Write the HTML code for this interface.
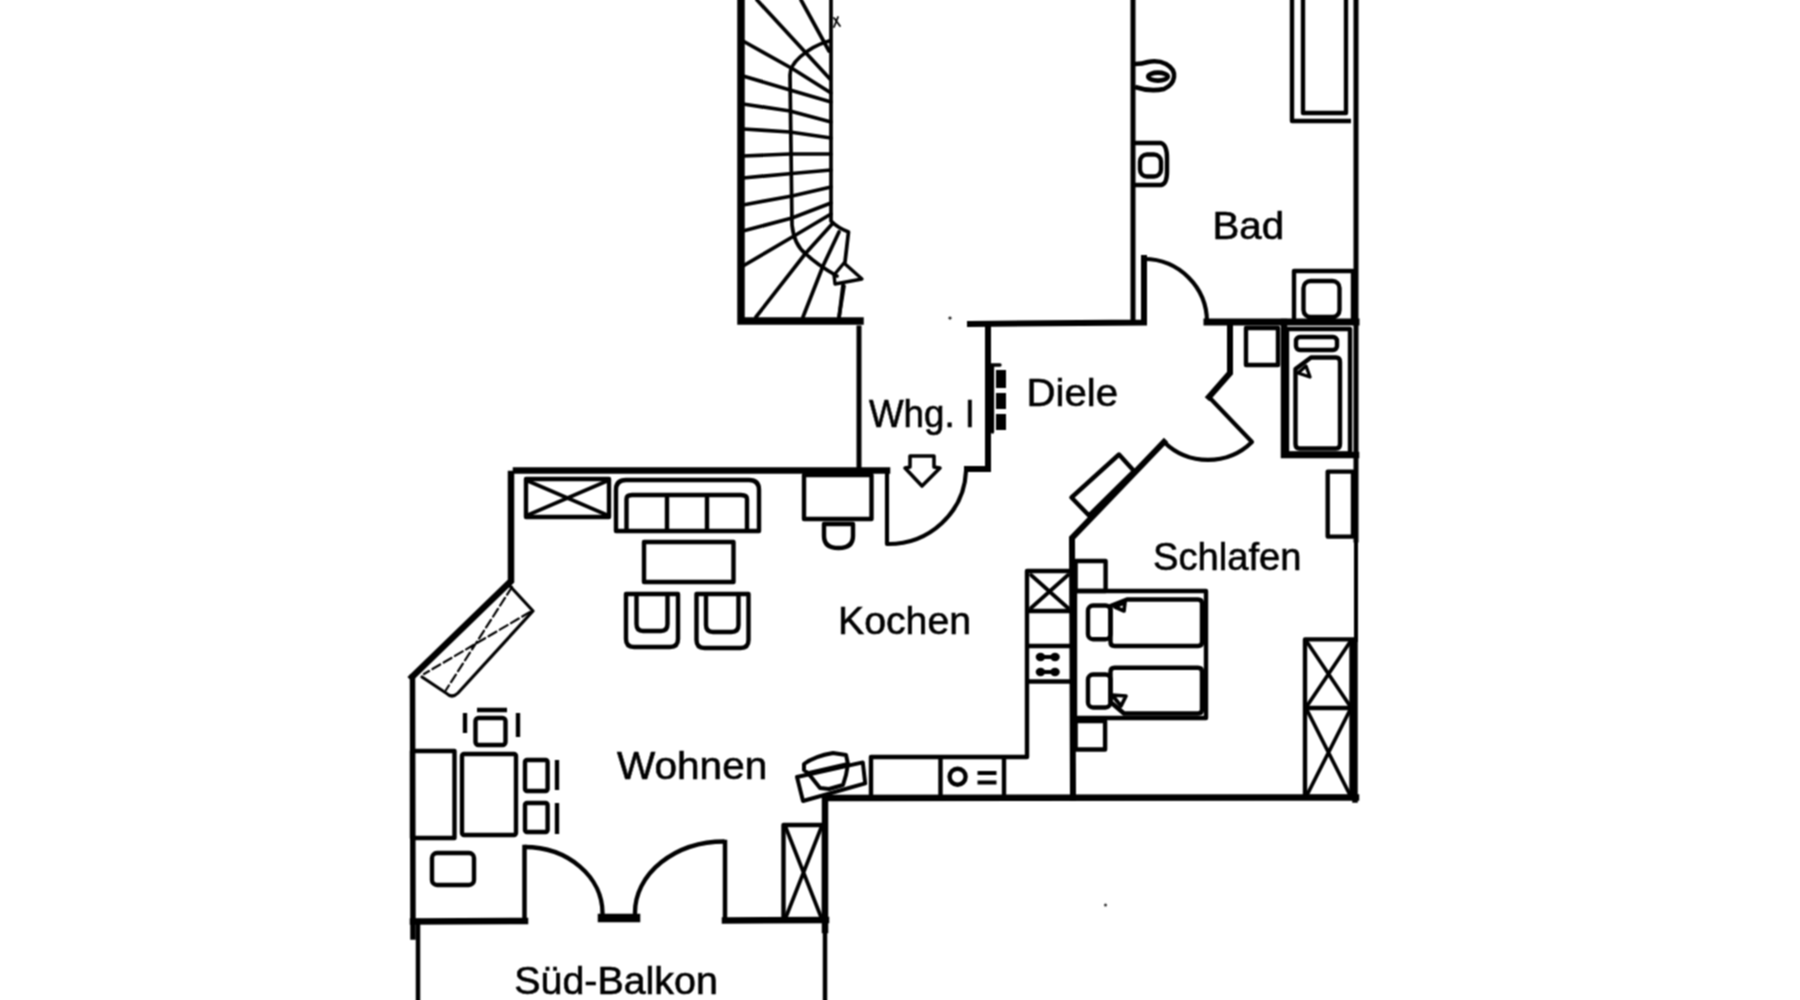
<!DOCTYPE html>
<html><head><meta charset="utf-8">
<style>
html,body{margin:0;padding:0;background:#fff;width:1800px;height:1000px;overflow:hidden}
svg{display:block}
.w{stroke:#000;stroke-width:6.5;fill:none;stroke-linecap:square;stroke-linejoin:miter}
.m{stroke:#000;stroke-width:4.8;fill:none;stroke-linejoin:round}
.f{stroke:#000;stroke-width:4.4;fill:none;stroke-linejoin:round}
.t{stroke:#000;stroke-width:3.7;fill:none;stroke-linejoin:round;stroke-linecap:round}
text{font-family:"Liberation Sans",sans-serif;font-size:38.5px;fill:#000;stroke:#000;stroke-width:0.6}
</style></head>
<body>
<svg width="1800" height="1000" viewBox="0 0 1800 1000">
<defs><filter id="bl" x="-1%" y="-1%" width="102%" height="102%"><feConvolveMatrix order="3" kernelMatrix="1 2 1 2 4 2 1 2 1" divisor="16" edgeMode="none"/></filter></defs>
<rect width="1800" height="1000" fill="#fff"/>
<g filter="url(#bl)">

<!-- ===== STAIRCASE ===== -->
<path class="w" d="M741,-5 L741,321 L860,321" style="stroke-width:7.5"/>
<!-- right stair boundary -->
<path class="t" d="M831,-2 L831,221 Q838,228 848.5,232 L845,262"/>
<path class="t" d="M843,285 L839,318"/>
<!-- arrow -->
<path class="t" d="M844,263 L862,279 L835,284 L834,275 Z" style="stroke-width:3.35"/>
<!-- middle curve -->
<path class="t" d="M829,41 Q812,46 800,57 Q790,66 790,75 L792,225 Q794,245 806,254 Q816,264 837,276"/>
<!-- steps -->
<path class="t" d="M757,0 L830,79"/>
<path class="t" d="M801,0 L829,51"/>
<path class="t" d="M743,41 L793,69 L831,93"/>
<path class="t" d="M743,76 L790,90 L831,102"/>
<path class="t" d="M743,104 L790,111 L831,122"/>
<path class="t" d="M743,129 L790,132 L831,138"/>
<path class="t" d="M743,156 L790,154 L831,154"/>
<path class="t" d="M743,178 L792,173.5 L831,170"/>
<path class="t" d="M743,205 L792,196 L831,187"/>
<path class="t" d="M743,231 L792,218 L831,203"/>
<path class="t" d="M743,266 L794,236 L831,214"/>
<path class="t" d="M756,317 L805,254 L833,223"/>
<path class="t" d="M803,317 L823,266 L839,232"/>
<path class="t" d="M839,317 L844,286"/>
<path class="t" d="M834,18 L840,26 M838,17 L834,27" style="stroke-width:1.8"/>

<!-- ===== CORRIDOR Whg. I ===== -->
<path class="w" d="M859,328 L859,469" style="stroke-width:5"/>
<path class="w" d="M988,324 L988,469 L967,469" style="stroke-width:6"/>
<!-- radiator -->
<path class="t" d="M988,365 L1000,365 M992.5,365 L992.5,432" style="stroke-width:3.35"/>
<path d="M996,370 h10 v18 h-10z M996,393 h10 v16 h-10z M996,414 h10 v16 h-10z" fill="#000"/>
<!-- door to living -->
<path class="m" d="M887,469 L887,544 A78,76 0 0 0 966,471" style="stroke-width:4.15"/>
<path class="t" d="M910,456 L934,456 L934,467 L940,468 L922,486 L905,468 L910,467 Z" style="stroke-width:3.55"/>

<!-- ===== DIELE / BAD walls ===== -->
<path class="w" d="M970,324 L1144,322.5 L1144,258" style="stroke-width:6"/>
<path class="w" d="M1133,-5 L1133,322" style="stroke-width:5"/>
<path class="m" d="M1144,259 A63,63 0 0 1 1207,322" style="stroke-width:4.15"/>
<path class="w" d="M1207,322 L1356,322" style="stroke-width:7"/>
<path class="w" d="M1356,-5 L1356,540" style="stroke-width:5"/><path class="w" d="M1356,540 L1356,640" style="stroke-width:4"/><path class="w" d="M1355,640 L1355,800" style="stroke-width:5.5"/>
<!-- door into small bath -->
<path class="w" d="M1230,322 L1230,373 L1209,397" style="stroke-width:6"/>
<path class="m" d="M1209,397 L1252,442 A63,63 0 0 1 1164,442" style="stroke-width:4.15"/>
<path class="w" d="M1164,442 L1072,538 L1073,798" style="stroke-width:6"/>
<!-- small bath -->
<path class="w" d="M1284,322 L1284,455 L1356,455" style="stroke-width:6.5"/>
<rect x="1246" y="328" width="32" height="37" class="f"/>
<rect x="1287" y="329" width="63" height="124.5" class="f"/>
<rect x="1296" y="337" width="41" height="13" rx="4" class="f"/>
<path class="f" d="M1295.5,369 L1311,357.5 L1336,357.5 Q1340,357.5 1340,362 L1340,444 Q1340,448.5 1336,448.5 L1299.5,448.5 Q1295.5,448.5 1295.5,444 Z"/>
<path class="t" d="M1298,373 L1306,366 L1310,377 Z" style="stroke-width:3.35"/>

<!-- Bad furniture -->
<path class="f" d="M1292,-2 L1292,121 L1351,121"/>
<path class="m" d="M1303,-2 L1303,113 L1346,113 L1346,-2" style="stroke-width:4.35"/>
<path class="m" d="M1135,64 Q1142,64 1148,62 Q1158,60 1166,64 Q1175,69 1174,77 Q1173,85 1164,89 Q1150,92 1135,87" style="stroke-width:4.55"/>
<ellipse cx="1158" cy="76.6" rx="9.8" ry="4" class="m" style="stroke-width:4.55"/>
<path class="f" d="M1135,143 L1161,143 Q1167,145 1167,158 L1167,172 Q1167,184 1161,185 L1135,185"/>
<rect x="1140" y="154.5" width="21" height="22" rx="7" class="f" style="stroke-width:4.35"/>
<rect x="1294" y="271" width="59" height="51" class="f"/>
<rect x="1303.5" y="281" width="36" height="36" rx="7" class="m" style="stroke-width:4.35"/>

<!-- ===== LIVING ROOM walls ===== -->
<path class="w" d="M887,470.5 L516,470.5 M511,474 L511,581 L412,677" style="stroke-width:6.5"/><path class="w" d="M412.5,677 L413,937" style="stroke-width:5.5"/>
<path class="w" d="M413,921.5 L525,921" style="stroke-width:6.5"/><path class="w" d="M524.5,921 L524.5,847" style="stroke-width:4.5"/>
<path class="m" d="M524.5,847 A78,66 0 0 1 602.5,913 L602.5,918" style="stroke-width:4.35"/>
<path class="w" d="M602,918 L636,918" style="stroke-width:8.5"/>
<path class="m" d="M635,918 L635,912.5 A89.5,71 0 0 1 724.5,841.5" style="stroke-width:4.35"/>
<path class="w" d="M725,842 L725,920.5" style="stroke-width:4.5"/><path class="w" d="M725,920.5 L826,920" style="stroke-width:6.5"/>
<path class="w" d="M825,930 L825,798 L1356,797.5" style="stroke-width:6.5"/><path class="w" d="M825,930 L825,1005" style="stroke-width:4.5"/>
<path class="w" d="M418,921 L418,1005" style="stroke-width:4.5"/>

<!-- living furniture -->
<rect x="526" y="479" width="83" height="38" class="f"/>
<path class="t" d="M528,481 L607,515 M607,481 L528,515"/>
<path class="f" d="M616,531 L616,490 Q616,480 626,480 L749,480 Q759,480 759,490 L759,531 Z"/>
<path class="f" d="M626.5,531 L626.5,499 Q626.5,495 632,495 L741,495 Q747,495 747,499 L747,531 M667,495 L667,531 M707,495 L707,531"/>
<rect x="644" y="542" width="89.5" height="40" class="f"/>
<path class="f" d="M626,594 L678,594 L678,639 Q678,647 670,647 L634,647 Q626,647 626,639 Z M636.5,594 L636.5,624 Q636.5,631 643,631 L661,631 Q667.5,631 667.5,624 L667.5,594"/>
<path class="f" d="M696.5,594 L748.5,594 L748.5,640 Q748.5,648 740.5,648 L704.5,648 Q696.5,648 696.5,640 Z M706,594 L706,625 Q706,632 713,632 L731.5,632 Q738.5,632 738.5,625 L738.5,594"/>
<rect x="804" y="475" width="67.5" height="44" class="f"/>
<path class="f" d="M824,524 L824,536 Q824,548 838.5,548 Q853,548 853,536 L853,524 Z"/>
<!-- rotated cabinet by diagonal wall -->
<path class="t" d="M509,585 L533,611 L458,693 Q452,699 446,693 L422,677" style="stroke-width:3.15"/>
<path class="t" d="M512,587 L446,690 M530,612 L424,674" style="stroke-width:2.2;stroke-dasharray:9 4"/>
<!-- dining -->
<path class="f" d="M477,710 L507,710 M465,713 L465,733 M518,713 L518,737" style="stroke-width:4.35"/>
<rect x="475.5" y="718" width="30" height="27" rx="3" class="f"/>
<rect x="412" y="751" width="42.5" height="87" class="f"/>
<rect x="462" y="754" width="54" height="81" rx="2" class="f"/>
<rect x="525" y="760" width="22.6" height="31" rx="2" class="f"/>
<rect x="525" y="803" width="22.6" height="29" rx="2" class="f"/>
<path class="f" d="M557,760 L557,790 M557,803 L557,834" style="stroke-width:4.35"/>
<rect x="432" y="853" width="42" height="32" rx="5" class="f"/>
<rect x="783.5" y="825" width="40.5" height="95" class="f"/>
<path class="t" d="M786,828 L821,917 M821,828 L786,917"/>
<!-- TV -->
<path class="f" d="M797,777 L862.8,762.4 L865.2,783.4 L803,801 Z" style="stroke-width:3.95"/>
<path class="f" d="M804,770 L804,764 Q815,756 833,753 L846,755 L848,764 L846,775 L843,785 L829,789 L820,788 L808,773 Z" style="stroke-width:3.95"/>
<path class="t" d="M808,773 L847,764" style="stroke-width:3.75"/>
<!-- kitchen counter -->
<path class="f" d="M871,797 L871,757 L1027,757 L1027,571 L1072,571"/>
<path class="f" d="M940.5,757 L940.5,797 M1004,757 L1004,797"/>
<circle cx="957.6" cy="776.7" r="8" class="m" style="stroke-width:4.35"/>
<path class="m" d="M977.5,773 L996.5,773 M977.5,782.5 L996.5,782.5" style="stroke-width:3.85"/>
<path class="f" d="M1027,611 L1072,611 M1027,646 L1072,646 M1027,681.5 L1072,681.5"/>
<path class="t" d="M1031,575 L1068,608 M1068,575 L1031,608"/>
<ellipse cx="1040.5" cy="657" rx="4.8" ry="4.2" fill="#000"/><ellipse cx="1055" cy="657" rx="4.8" ry="4.2" fill="#000"/>
<ellipse cx="1040.5" cy="672" rx="4.8" ry="4.2" fill="#000"/><ellipse cx="1055" cy="672" rx="4.8" ry="4.2" fill="#000"/>
<path class="t" d="M1040,657 L1056,657 M1040,672 L1056,672" style="stroke-width:3.85"/>

<!-- ===== SCHLAFEN furniture ===== -->
<rect x="1075.6" y="561" width="30" height="30" class="f"/>
<rect x="1075.6" y="721" width="29.5" height="28.5" class="f"/>
<rect x="1075" y="591" width="131" height="127" class="f"/>
<rect x="1088" y="605.5" width="22.5" height="33.7" rx="5" class="f"/>
<path class="f" d="M1127,599.5 L1198,599.5 Q1202,599.5 1202,603.5 L1202,642 Q1202,646 1198,646 L1114.5,646 Q1110.5,646 1110.5,642 L1110.5,606 Z"/>
<path class="t" d="M1115,607 L1125,602 L1124,611 Z"/>
<rect x="1088" y="674.5" width="22.5" height="33" rx="5" class="f"/>
<path class="f" d="M1114.5,667.7 L1198,667.7 Q1202,667.7 1202,671.7 L1202,709.5 Q1202,713.5 1198,713.5 L1124,713.5 L1110.5,702 L1110.5,671.7 Q1110.5,667.7 1114.5,667.7 Z"/>
<path class="t" d="M1112,695 L1126,696 L1121,706 Z"/>
<rect x="1305" y="639.4" width="46.5" height="157.6" class="f"/>
<path class="f" d="M1305,708 L1351.5,708"/>
<path class="t" d="M1307,642 L1350,706 M1350,642 L1307,706 M1307,710 L1350,795 M1350,710 L1307,795"/>
<rect x="1327.7" y="471.6" width="25.3" height="65" class="f"/>
<path class="f" d="M1071.5,497.5 L1119,454.5 L1134,471 L1089,515.5 Z"/>

<circle cx="1105.5" cy="905" r="1.5" fill="#333"/><circle cx="950" cy="318" r="1.6" fill="#222"/>
<!-- ===== TEXTS ===== -->
<text x="1212.5" y="239" textLength="71.5" lengthAdjust="spacingAndGlyphs">Bad</text>
<text x="1026.5" y="406" textLength="91.6" lengthAdjust="spacingAndGlyphs">Diele</text>
<text x="869" y="426.5" textLength="106" lengthAdjust="spacingAndGlyphs">Whg. I</text>
<text x="1153" y="570" textLength="148.5" lengthAdjust="spacingAndGlyphs">Schlafen</text>
<text x="838" y="634" textLength="133" lengthAdjust="spacingAndGlyphs">Kochen</text>
<text x="617" y="779" textLength="150.2" lengthAdjust="spacingAndGlyphs">Wohnen</text>
<text x="514.3" y="994" textLength="203.5" lengthAdjust="spacingAndGlyphs">Süd-Balkon</text>
</g>
</svg>
</body></html>
